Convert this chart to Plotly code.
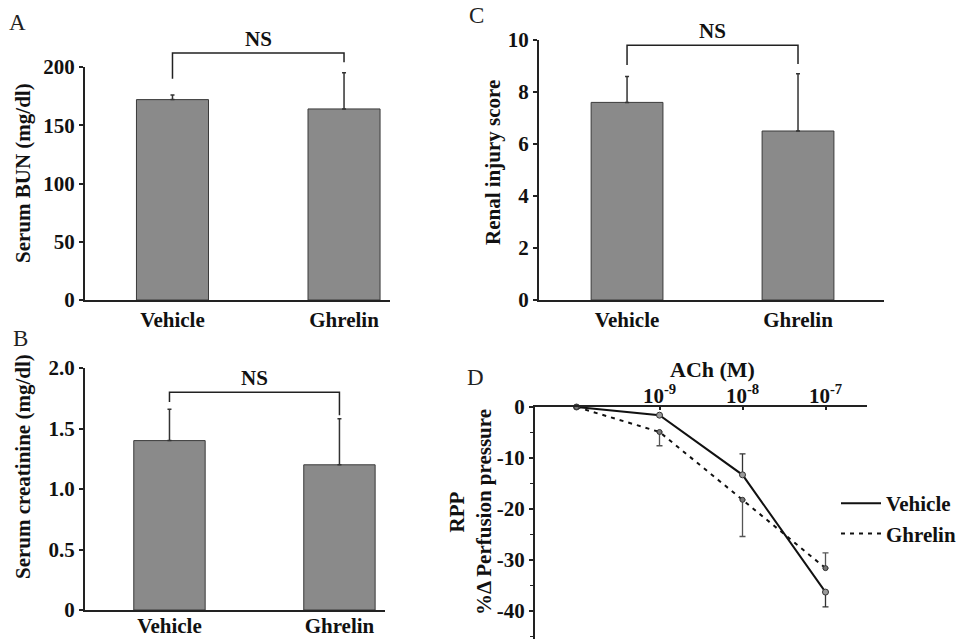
import plotly.graph_objects as go

# ---------------- data ----------------
categories = ["Vehicle", "Ghrelin"]
bun_mean = [172, 164]
bun_sem = [4, 31]
creat_mean = [1.40, 1.20]
creat_sem = [0.26, 0.38]
injury_mean = [7.6, 6.5]
injury_sem = [1.0, 2.2]

ach_conc = [1e-10, 1e-9, 1e-8, 1e-7]
rpp_vehicle = [0, -1.6, -13.3, -36.3]
rpp_vehicle_err_up = [0, 0, 4.1, 0]
rpp_vehicle_err_down = [0, 0, 0, 2.9]
rpp_ghrelin = [0, -4.9, -18.2, -31.6]
rpp_ghrelin_err_up = [0, 0, 0, 3.0]
rpp_ghrelin_err_down = [0, 2.7, 7.2, 0]

bun_ticks = [0, 50, 100, 150, 200]
bun_labels = ["0", "50", "100", "150", "200"]
creat_ticks = [0, 0.5, 1.0, 1.5, 2.0]
creat_labels = ["0", "0.5", "1.0", "1.5", "2.0"]
injury_ticks = [0, 2, 4, 6, 8, 10]
injury_labels = ["0", "2", "4", "6", "8", "10"]
rpp_ticks = [0, -10, -20, -30, -40]
rpp_labels = ["0", "-10", "-20", "-30", "-40"]
ach_ticks = [1e-9, 1e-8, 1e-7]
ach_labels = ["10<sup>-9</sup>", "10<sup>-8</sup>", "10<sup>-7</sup>"]

# significance brackets: (top, left leg end, right leg end)
bracket_A = (212, 190, 204)
bracket_B = (1.80, 1.72, 1.61)
bracket_C = (9.8, 9.04, 9.08)

# ---------------- layout geometry ----------------
W, H = 969, 639
FONT = "Liberation Serif"


def px(x):
    return x / W


def py(y):
    return 1 - y / H


dom = {
    "A": ([px(85), px(390)], [py(300), py(67)]),
    "B": ([px(85), px(385)], [py(610), py(368)]),
    "C": ([px(539), px(884)], [py(300), py(40)]),
    "D": ([px(535), px(867)], [0.0, py(407)]),
}
xr = {"A": [-0.51, 1.268], "B": [-0.497, 1.268], "C": [-0.515, 1.503]}
yr = {"A": [0, 200], "B": [0, 2.0], "C": [0, 10], "D": [-45.5, 0]}
xlabel_standoff = {"A": 0, "B": -4, "C": 0}


def d2p(d, r, v):
    return d[0] + (v - r[0]) / (r[1] - r[0]) * (d[1] - d[0])


BAR_COLOR = "#8a8a8a"
EDGE = "#3a3a3a"
AX = "#222222"

fig = go.Figure()

panels = [
    ("A", "x", "y", bun_mean, bun_sem),
    ("B", "x2", "y2", creat_mean, creat_sem),
    ("C", "x3", "y3", injury_mean, injury_sem),
]
for key, xa, ya, vals, errs in panels:
    fig.add_trace(go.Bar(
        x=categories, y=vals, xaxis=xa, yaxis=ya,
        width=0.42, marker=dict(color=BAR_COLOR, line=dict(color=EDGE, width=1)),
        error_y=dict(type="data", array=errs, arrayminus=[0] * len(errs),
                     symmetric=False, color="#333", thickness=1.5, width=2),
        showlegend=False,
    ))

# panel D lines (legend) + markers/errors
fig.add_trace(go.Scatter(
    x=ach_conc, y=rpp_vehicle, xaxis="x4", yaxis="y4", mode="lines",
    line=dict(color="#111", width=2), name="Vehicle", showlegend=True,
))
fig.add_trace(go.Scatter(
    x=ach_conc, y=rpp_ghrelin, xaxis="x4", yaxis="y4", mode="lines",
    line=dict(color="#111", width=2, dash="4px,5px"), name="Ghrelin", showlegend=True,
))
fig.add_trace(go.Scatter(
    x=ach_conc, y=rpp_vehicle, xaxis="x4", yaxis="y4", mode="markers",
    marker=dict(size=6, color="#9a9a9a", line=dict(color="#333", width=1)),
    error_y=dict(type="data", array=rpp_vehicle_err_up, arrayminus=rpp_vehicle_err_down,
                 symmetric=False, color="#333", thickness=1.3, width=3),
    showlegend=False, cliponaxis=False,
))
fig.add_trace(go.Scatter(
    x=ach_conc, y=rpp_ghrelin, xaxis="x4", yaxis="y4", mode="markers",
    marker=dict(size=5, color="#777", line=dict(color="#333", width=1)),
    error_y=dict(type="data", array=rpp_ghrelin_err_up, arrayminus=rpp_ghrelin_err_down,
                 symmetric=False, color="#555", thickness=1.3, width=3),
    showlegend=False, cliponaxis=False,
))

tickfont = dict(family=FONT, size=21, color="#111", weight="bold")
base_axis = dict(showline=True, linecolor=AX, linewidth=2, showgrid=False,
                 zeroline=False, tickfont=tickfont, fixedrange=True, automargin=False)

layout_axes = {}
for i, (key, tv, tl) in enumerate([("A", bun_ticks, bun_labels),
                                   ("B", creat_ticks, creat_labels),
                                   ("C", injury_ticks, injury_labels)]):
    sfx = "" if i == 0 else str(i + 1)
    layout_axes["xaxis" + sfx] = dict(base_axis, domain=dom[key][0], range=xr[key],
                                      anchor="y" + sfx, ticks="", type="category",
                                      ticklabelstandoff=xlabel_standoff[key])
    layout_axes["yaxis" + sfx] = dict(base_axis, domain=dom[key][1], range=yr[key],
                                      anchor="x" + sfx, ticks="outside", ticklen=4,
                                      tickwidth=1.5, tickcolor=AX,
                                      tickvals=tv, ticktext=tl)

layout_axes["xaxis4"] = dict(base_axis, domain=dom["D"][0], type="log",
                             range=[-10.5, -6.5], anchor="y4", side="top",
                             ticks="inside", ticklen=3, tickwidth=1.5, tickcolor=AX,
                             tickvals=ach_ticks, ticktext=ach_labels,
                             ticklabelstandoff=-6)
layout_axes["yaxis4"] = dict(base_axis, domain=dom["D"][1], range=yr["D"],
                             anchor="x4", ticks="outside", ticklen=4, tickwidth=1.5,
                             tickcolor=AX, tickvals=rpp_ticks, ticktext=rpp_labels,
                             minor=dict(dtick=5, ticks="outside", ticklen=3,
                                        tickcolor=AX, tickwidth=1))

shapes = []
annotations = []

for key, br in [("A", bracket_A), ("B", bracket_B), ("C", bracket_C)]:
    xd, ydm = dom[key]
    x0 = d2p(xd, xr[key], 0)
    x1 = d2p(xd, xr[key], 1)
    yt = d2p(ydm, yr[key], br[0])
    yl = d2p(ydm, yr[key], br[1])
    yrr = d2p(ydm, yr[key], br[2])
    shapes.append(dict(type="path", xref="paper", yref="paper",
                       path=f"M{x0},{yl} L{x0},{yt} L{x1},{yt} L{x1},{yrr}",
                       line=dict(color="#222", width=1.5)))
    annotations.append(dict(text="NS", x=(x0 + x1) / 2, y=yt, xref="paper", yref="paper",
                            showarrow=False, xanchor="center", yanchor="bottom", yshift=0,
                            font=dict(family=FONT, size=21, color="#111", weight="bold")))

title_font = dict(family=FONT, size=21, color="#111", weight="bold")
for text, x, y in [("Serum BUN (mg/dl)", 23, 173),
                   ("Serum creatinine (mg/dl)", 23, 467),
                   ("Renal injury score", 493, 163),
                   ("RPP<br>%Δ Perfusion pressure", 470, 512)]:
    annotations.append(dict(text=text, x=px(x), y=py(y), xref="paper", yref="paper",
                            showarrow=False, textangle=-90, xanchor="center",
                            yanchor="middle", font=title_font))

annotations.append(dict(text="ACh (M)", x=px(712), y=py(369), xref="paper", yref="paper",
                        showarrow=False, xanchor="center", yanchor="middle",
                        font=dict(family=FONT, size=22, color="#111", weight="bold")))

letter_font = dict(family=FONT, size=23, color="#222")
for text, x, y in [("A", 17, 22), ("B", 20, 338), ("C", 476, 15), ("D", 475, 377)]:
    annotations.append(dict(text=text, x=px(x), y=py(y), xref="paper", yref="paper",
                            showarrow=False, xanchor="center", yanchor="middle",
                            font=letter_font))

fig.update_layout(
    width=W, height=H, margin=dict(l=0, r=0, t=0, b=0, autoexpand=False),
    paper_bgcolor="white", plot_bgcolor="white",
    font=dict(family=FONT, size=19, color="#111"),
    shapes=shapes, annotations=annotations,
    legend=dict(x=px(836), y=py(483), xanchor="left", yanchor="top",
                bgcolor="rgba(0,0,0,0)", font=dict(family=FONT, size=21, color="#111",
                                                   weight="bold"),
                tracegroupgap=0, itemwidth=40),
    **layout_axes,
)

fig.write_html("out.html")
